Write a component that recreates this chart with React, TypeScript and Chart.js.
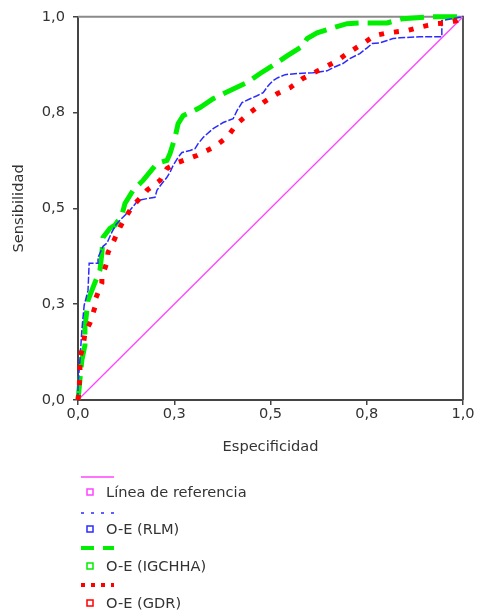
import React, { useEffect, useRef } from "react";
import { Chart, registerables } from "chart.js";
Chart.register(...registerables);

const TICK_VALUES = [0, 0.25, 0.5, 0.75, 1];
const TICK_LABELS = ["0,0", "0,3", "0,5", "0,8", "1,0"];
const X_TITLE = "Especificidad";
const Y_TITLE = "Sensibilidad";
const SERIES_NAMES = ["Línea de referencia", "O-E (RLM)", "O-E (IGCHHA)", "O-E (GDR)"];

const REF_X = [0, 1];
const REF_Y = [0, 1];

const RLM_X = [0, 0, 0.005, 0.01, 0.016, 0.026, 0.029, 0.052, 0.052, 0.065, 0.075, 0.088, 0.099, 0.109, 0.122, 0.135, 0.156, 0.182, 0.2, 0.205, 0.218, 0.231, 0.239, 0.247, 0.26, 0.27, 0.291, 0.304, 0.312, 0.325, 0.351, 0.377, 0.403, 0.413, 0.426, 0.447, 0.465, 0.481, 0.494, 0.506, 0.519, 0.538, 0.569, 0.61, 0.647, 0.662, 0.688, 0.706, 0.732, 0.751, 0.764, 0.784, 0.803, 0.818, 0.836, 0.888, 0.945, 0.945, 1];
const RLM_Y = [0, 0.039, 0.104, 0.182, 0.247, 0.286, 0.357, 0.357, 0.372, 0.401, 0.409, 0.438, 0.458, 0.469, 0.482, 0.495, 0.521, 0.526, 0.529, 0.547, 0.565, 0.581, 0.594, 0.612, 0.633, 0.646, 0.651, 0.656, 0.669, 0.685, 0.708, 0.724, 0.734, 0.755, 0.776, 0.786, 0.794, 0.802, 0.82, 0.833, 0.841, 0.849, 0.852, 0.854, 0.859, 0.867, 0.878, 0.891, 0.904, 0.919, 0.93, 0.932, 0.938, 0.943, 0.945, 0.948, 0.948, 0.99, 1];

const IGCHHA_X = [0, 0.005, 0.01, 0.018, 0.018, 0.026, 0.039, 0.057, 0.062, 0.065, 0.083, 0.096, 0.114, 0.122, 0.143, 0.169, 0.205, 0.231, 0.239, 0.252, 0.26, 0.273, 0.291, 0.317, 0.351, 0.377, 0.421, 0.439, 0.473, 0.517, 0.543, 0.584, 0.595, 0.621, 0.655, 0.699, 0.732, 0.803, 0.844, 0.922, 1];
const IGCHHA_Y = [0, 0.052, 0.104, 0.143, 0.19, 0.26, 0.294, 0.339, 0.383, 0.424, 0.448, 0.456, 0.482, 0.513, 0.547, 0.573, 0.617, 0.625, 0.643, 0.685, 0.721, 0.742, 0.75, 0.763, 0.786, 0.799, 0.82, 0.828, 0.852, 0.88, 0.898, 0.924, 0.943, 0.958, 0.969, 0.982, 0.984, 0.984, 0.995, 1, 1];

const GDR_X = [0, 0.003, 0.005, 0.005, 0.013, 0.018, 0.031, 0.044, 0.044, 0.062, 0.062, 0.075, 0.078, 0.091, 0.109, 0.122, 0.143, 0.169, 0.179, 0.213, 0.231, 0.26, 0.309, 0.351, 0.387, 0.413, 0.447, 0.481, 0.517, 0.551, 0.584, 0.623, 0.673, 0.699, 0.74, 0.771, 0.805, 0.855, 0.881, 0.906, 0.932, 0.958, 0.984, 1];
const GDR_Y = [0, 0.026, 0.078, 0.112, 0.138, 0.174, 0.201, 0.242, 0.26, 0.305, 0.32, 0.359, 0.385, 0.411, 0.451, 0.474, 0.508, 0.534, 0.547, 0.573, 0.604, 0.62, 0.638, 0.659, 0.685, 0.721, 0.75, 0.776, 0.799, 0.815, 0.839, 0.859, 0.885, 0.904, 0.93, 0.951, 0.958, 0.964, 0.971, 0.977, 0.982, 0.984, 0.99, 1];

const COLORS = ["#ff44ff", "#2b2bff", "#00ee00", "#ff0000"];
const FONT_FAMILY = "'DejaVu Sans', Verdana, sans-serif";
const TEXT_COLOR = "#333";

const pts = (xs: number[], ys: number[]) => xs.map((x, i) => ({ x, y: ys[i] }));

const framePlugin = {
  id: "frame",
  beforeDatasetsDraw(chart: any) {
    const { ctx, chartArea } = chart;
    const { left, right, top, bottom } = chartArea;
    ctx.save();
    ctx.lineWidth = 2;
    ctx.strokeStyle = "#8a8a8a";
    ctx.beginPath();
    ctx.moveTo(left, top);
    ctx.lineTo(right, top);
    ctx.stroke();
    ctx.strokeStyle = "#555";
    ctx.beginPath();
    ctx.moveTo(right, top - 1);
    ctx.lineTo(right, bottom);
    ctx.stroke();
    ctx.restore();
  },
};

export default function App() {
  const ref = useRef<HTMLCanvasElement | null>(null);

  useEffect(() => {
    if (!ref.current) return;
    const font = { family: FONT_FAMILY, size: 14.6 };
    const chart = new Chart(ref.current, {
      type: "line",
      data: {
        datasets: [
          {
            label: SERIES_NAMES[3],
            data: pts(GDR_X, GDR_Y),
            borderColor: COLORS[3],
            borderWidth: 5,
            borderDash: [5, 10],
            pointRadius: 0,
            tension: 0,
            fill: false,
            order: 0,
            clip: 8,
          },
          {
            label: SERIES_NAMES[1],
            data: pts(RLM_X, RLM_Y),
            borderColor: COLORS[1],
            borderWidth: 1.5,
            borderDash: [7, 2],
            pointRadius: 0,
            tension: 0,
            fill: false,
            order: 1,
            clip: 8,
          },
          {
            label: SERIES_NAMES[2],
            data: pts(IGCHHA_X, IGCHHA_Y),
            borderColor: COLORS[2],
            borderWidth: 5,
            borderDash: [24, 9],
            pointRadius: 0,
            tension: 0,
            fill: false,
            order: 2,
            clip: 8,
          },
          {
            label: SERIES_NAMES[0],
            data: pts(REF_X, REF_Y),
            borderColor: COLORS[0],
            borderWidth: 1.3,
            pointRadius: 0,
            tension: 0,
            fill: false,
            order: 3,
          },
        ],
      },
      options: {
        responsive: false,
        animation: false,
        layout: { padding: { top: 16, right: 28, left: 0, bottom: 0 } },
        plugins: { legend: { display: false }, tooltip: { enabled: false } },
        scales: {
          x: {
            type: "linear",
            min: 0,
            max: 1,
            afterBuildTicks: (s: any) => {
              s.ticks = TICK_VALUES.map((v) => ({ value: v }));
            },
            afterFit: (s: any) => {
              s.height = 70;
            },
            ticks: {
              callback: (_v: any, i: number) => TICK_LABELS[i],
              color: TEXT_COLOR,
              font,
              padding: 0,
              maxRotation: 0,
              autoSkip: false,
            },
            grid: { drawOnChartArea: false, drawTicks: true, tickLength: 5, color: "#444", lineWidth: 1.5 },
            border: { display: true, color: "#444", width: 2 },
            title: { display: true, text: X_TITLE, color: TEXT_COLOR, font, padding: { top: 0, bottom: 14 } },
          },
          y: {
            type: "linear",
            min: 0,
            max: 1,
            afterBuildTicks: (s: any) => {
              s.ticks = TICK_VALUES.map((v) => ({ value: v }));
            },
            afterFit: (s: any) => {
              s.width = 78;
            },
            ticks: {
              callback: (_v: any, i: number) => TICK_LABELS[i],
              color: TEXT_COLOR,
              font,
              padding: 8,
              autoSkip: false,
            },
            grid: { drawOnChartArea: false, drawTicks: true, tickLength: 5, color: "#444", lineWidth: 1.5 },
            border: { display: true, color: "#444", width: 2 },
            title: { display: true, text: Y_TITLE, color: TEXT_COLOR, font, padding: { top: 10, bottom: 0 } },
          },
        },
      },
      plugins: [framePlugin],
    } as any);
    return () => chart.destroy();
  }, []);

  const sampleY = [477, 513, 548, 585];
  const textY = [492, 529, 566, 603];
  const dashes = ["", "3,7", "13,9", "4,6"];
  const widths = [1.3, 1.5, 4, 4];

  return (
    <div style={{ position: "absolute", left: 0, top: 0, width: 491, height: 612, background: "#fff" }}>
      <canvas ref={ref} width={491} height={470} style={{ display: "block", width: 491, height: 470 }} />
      <svg width={491} height={612} style={{ position: "absolute", left: 0, top: 0, pointerEvents: "none" }}>
        {SERIES_NAMES.map((_, i) => (
          <g key={i}>
            <line
              x1={81}
              x2={114}
              y1={sampleY[i]}
              y2={sampleY[i]}
              stroke={COLORS[i]}
              strokeWidth={widths[i]}
              strokeDasharray={dashes[i] || undefined}
            />
            <rect x={87} y={textY[i] - 3} width={6} height={6} fill="#fff" stroke={COLORS[i]} strokeWidth={1.5} />
          </g>
        ))}
      </svg>
      {SERIES_NAMES.map((name, i) => (
        <div
          key={i}
          style={{
            position: "absolute",
            left: 106,
            top: textY[i] - 9,
            height: 18,
            lineHeight: "18px",
            fontFamily: FONT_FAMILY,
            fontSize: 14.6,
            color: TEXT_COLOR,
            whiteSpace: "nowrap",
          }}
        >
          {name}
        </div>
      ))}
    </div>
  );
}
